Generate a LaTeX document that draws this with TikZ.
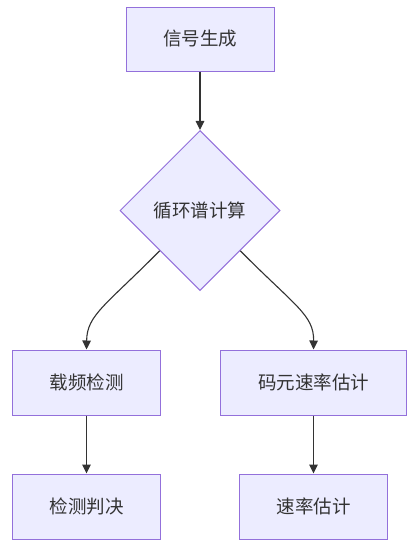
\documentclass[tikz,border=0pt]{standalone}
\usepackage{fontspec}
\newfontfamily\cjk{Noto Sans CJK SC}
\usetikzlibrary{shapes.geometric,arrows.meta}
\definecolor{nodefill}{HTML}{ECECFF}
\definecolor{nodeline}{HTML}{9370DB}
\definecolor{edgecol}{HTML}{333333}
\tikzset{
  box/.style={rectangle, draw=nodeline, fill=nodefill, line width=1pt,
    minimum height=64pt, inner sep=0pt, text=edgecol,
    font=\cjk\fontsize{18.5}{20}\selectfont},
  decision/.style={diamond, draw=nodeline, fill=nodefill, line width=1pt,
    minimum width=160pt, minimum height=160pt, inner sep=0pt, text=edgecol,
    font=\cjk\fontsize{18.5}{20}\selectfont},
  flow/.style={draw=edgecol, line width=1.1pt, -{Triangle[length=9pt,width=8.5pt]}}
}
\begin{document}
\begin{tikzpicture}[x=1pt,y=-1pt]
  \fill[white] (0,0) rectangle (419,554);
  \useasboundingbox (0,0) rectangle (419,554);
  \node[box, minimum width=148pt] (gen) at (200,39) {信号生成};
  \node[decision] (csc) at (200,210.5) {循环谱计算};
  \node[box, minimum width=148pt, minimum height=65pt] (carrier) at (86.5,382.5) {载频检测};
  \node[box, minimum width=186pt, minimum height=65pt] (symrate) at (313.5,382.5) {码元速率估计};
  \node[box, minimum width=148pt, minimum height=65pt] (decide) at (86.5,506.5) {检测判决};
  \node[box, minimum width=148pt, minimum height=65pt] (rate) at (313.5,506.5) {速率估计};
  \draw[flow] (gen) -- (csc);
  \draw[flow] (csc.south west) .. controls (105,306) and (87,315) .. (carrier.north);
  \draw[flow] (csc.south east) .. controls (295,306) and (314,315) .. (symrate.north);
  \draw[flow] (carrier) -- (decide);
  \draw[flow] (symrate) -- (rate);
\end{tikzpicture}
\end{document}
